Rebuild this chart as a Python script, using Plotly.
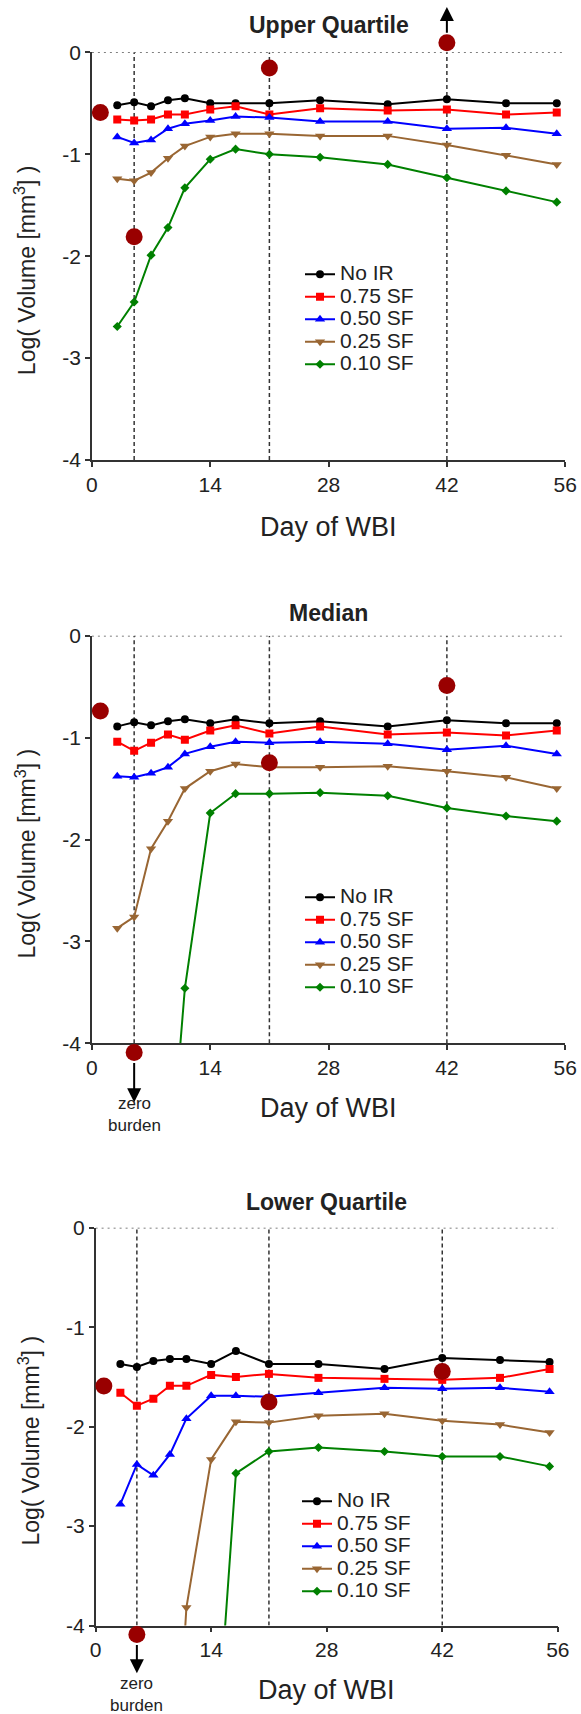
import plotly.graph_objects as go

W, H = 581, 1714
FONT = "Liberation Sans, Arial, sans-serif"

# ---- data -------------------------------------------------------------
days = [3, 5, 7, 9, 11, 14, 17, 21, 27, 35, 42, 49, 55]
series_names = ["No IR", "0.75 SF", "0.50 SF", "0.25 SF", "0.10 SF"]

# Upper quartile, log10 volume [mm^3]
upper_no_ir = [-0.52, -0.49, -0.53, -0.47, -0.45, -0.50, -0.50, -0.50, -0.47, -0.51, -0.46, -0.50, -0.50]
upper_sf075 = [-0.66, -0.67, -0.66, -0.61, -0.61, -0.56, -0.53, -0.61, -0.55, -0.57, -0.56, -0.61, -0.59]
upper_sf050 = [-0.83, -0.89, -0.86, -0.75, -0.70, -0.67, -0.63, -0.64, -0.68, -0.68, -0.75, -0.74, -0.80]
upper_sf025 = [-1.24, -1.26, -1.18, -1.04, -0.92, -0.83, -0.80, -0.80, -0.82, -0.82, -0.91, -1.01, -1.10]
upper_sf010 = [-2.69, -2.45, -1.99, -1.72, -1.33, -1.05, -0.95, -1.00, -1.03, -1.10, -1.23, -1.36, -1.47]

# Median
median_no_ir = [-0.89, -0.85, -0.88, -0.84, -0.82, -0.86, -0.82, -0.86, -0.84, -0.89, -0.83, -0.86, -0.86]
median_sf075 = [-1.04, -1.13, -1.05, -0.97, -1.02, -0.93, -0.88, -0.96, -0.89, -0.97, -0.95, -0.98, -0.93]
median_sf050 = [-1.38, -1.39, -1.35, -1.29, -1.16, -1.09, -1.04, -1.05, -1.04, -1.06, -1.12, -1.08, -1.16]
median_sf025 = [-2.87, -2.76, -2.09, -1.82, -1.50, -1.33, -1.26, -1.29, -1.29, -1.28, -1.33, -1.39, -1.50]
median_sf010 = [None, None, None, -5.5, -3.46, -1.74, -1.55, -1.55, -1.54, -1.57, -1.69, -1.77, -1.82]

# Lower quartile
lower_no_ir = [-1.37, -1.40, -1.34, -1.32, -1.32, -1.37, -1.24, -1.37, -1.37, -1.42, -1.31, -1.33, -1.35]
lower_sf075 = [-1.66, -1.79, -1.72, -1.59, -1.59, -1.48, -1.50, -1.47, -1.51, -1.52, -1.53, -1.51, -1.42]
lower_sf050 = [-2.78, -2.38, -2.49, -2.28, -1.92, -1.69, -1.69, -1.70, -1.66, -1.61, -1.62, -1.61, -1.65]
lower_sf025 = [None, None, None, -6.6, -3.82, -2.33, -1.95, -1.96, -1.89, -1.87, -1.94, -1.98, -2.06]
lower_sf010 = [None, None, None, None, None, -6.0, -2.47, -2.25, -2.21, -2.25, -2.30, -2.30, -2.40]

# Observed reference points (dark red dots)
dot_days = [1, 5, 21, 42]
upper_dots = [-0.59, -1.81, -0.154, 0.094]
median_dots = [-0.74, -4.09, -1.247, -0.488]
lower_dots = [-1.592, -4.09, -1.753, -1.445]

# Imaging days marked by dashed lines
marker_days = [5, 21, 42]

x_tick_vals = [0, 14, 28, 42, 56]
x_tick_text = ["0", "14", "28", "42", "56"]
y_tick_vals = [0, -1, -2, -3, -4]
y_tick_text = ["0", "-1", "-2", "-3", "-4"]

panel_titles = ["Upper Quartile", "Median", "Lower Quartile"]

# ---- styling ----------------------------------------------------------
series_colors = ["#000000", "#ff0000", "#0000ff", "#996633", "#008000"]
series_symbols = ["circle", "square", "triangle-up", "triangle-down", "diamond"]
series_sizes = [8, 8, 9, 9, 7]
dot_color = "#990000"
axis_color = "#333333"


def fx(px):
    return px / W


def fy(py):
    return 1 - py / H


# pixel geometry of each panel
panels = [
    dict(series=[upper_no_ir, upper_sf075, upper_sf050, upper_sf025, upper_sf010],
         dots=upper_dots, x0=91.9, x1=565.2, top=52.3, bottom=460.0,
         title_y=25, xtitle_y=527, ytitle_x=25, legend_x=300, legend_y=258,
         arrow=(42, 0.177, 0.444), zero_text=None),
    dict(series=[median_no_ir, median_sf075, median_sf050, median_sf025, median_sf010],
         dots=median_dots, x0=91.9, x1=565.2, top=635.7, bottom=1043.3,
         title_y=613, xtitle_y=1108, ytitle_x=25, legend_x=300, legend_y=881,
         arrow=(5, -4.178, -4.578), zero_text=1114),
    dict(series=[lower_no_ir, lower_sf075, lower_sf050, lower_sf025, lower_sf010],
         dots=lower_dots, x0=95.6, x1=557.8, top=1227.7, bottom=1625.5,
         title_y=1202, xtitle_y=1690, ytitle_x=29, legend_x=297, legend_y=1485,
         arrow=(5, -4.18, -4.48), zero_text=1694),
]

# extra room (px) above / below each panel for marks that sit just outside it
EXT_TOP, EXT_BOTTOM = 50, 80

fig = go.Figure()
annotations = []
shapes = []
layout_axes = {}

for i, p in enumerate(panels):
    n = "" if i == 0 else str(i + 1)
    xa, ya = "x" + n, "y" + n
    # companion axis pair: same horizontal scale, same vertical scale, taller span
    xe, ye = "x" + str(i + 4), "y" + str(i + 4)
    leg = "legend" + n
    unit = (p["bottom"] - p["top"]) / 4.0

    for name, vals, col, sym, sz in zip(series_names, p["series"], series_colors,
                                        series_symbols, series_sizes):
        fig.add_trace(go.Scatter(
            x=days, y=vals, mode="lines+markers", xaxis=xa, yaxis=ya,
            name='<span style="font-size:21px">' + name + "</span>",
            legend=leg,
            line=dict(color=col, width=2),
            marker=dict(symbol=sym, size=sz, color=col, line=dict(width=0)),
        ))

    fig.add_trace(go.Scatter(
        x=dot_days, y=p["dots"], mode="markers", xaxis=xe, yaxis=ye,
        marker=dict(size=17, color=dot_color), cliponaxis=False, showlegend=False,
    ))

    tick_common = dict(
        showline=True, linecolor=axis_color, linewidth=1.5,
        ticks="outside", ticklen=5, tickwidth=1.5, tickcolor=axis_color,
        showgrid=False, zeroline=False, automargin=False,
        tickfont=dict(family=FONT, size=21, color="#222222"),
    )
    layout_axes["xaxis" + n] = dict(
        domain=[fx(p["x0"]), fx(p["x1"])], anchor=ya, range=[0, 56],
        tickvals=x_tick_vals, ticktext=x_tick_text, **tick_common,
    )
    layout_axes["yaxis" + n] = dict(
        domain=[fy(p["bottom"]), fy(p["top"])], anchor=xa, range=[-4, 0],
        tickvals=y_tick_vals, ticktext=y_tick_text, **tick_common,
    )
    layout_axes["xaxis" + str(i + 4)] = dict(
        domain=[fx(p["x0"]), fx(p["x1"])], anchor=ye, range=[0, 56],
        visible=False, showgrid=False, zeroline=False, automargin=False,
    )
    layout_axes["yaxis" + str(i + 4)] = dict(
        domain=[fy(p["bottom"] + EXT_BOTTOM), fy(p["top"] - EXT_TOP)], anchor=xe,
        range=[-4 - EXT_BOTTOM / unit, EXT_TOP / unit],
        visible=False, showgrid=False, zeroline=False, automargin=False,
    )
    layout_axes[leg] = dict(
        x=fx(p["legend_x"]), y=fy(p["legend_y"]), xanchor="left", yanchor="top",
        bgcolor="rgba(0,0,0,0)", borderwidth=0,
        font=dict(family=FONT, size=15, color="#222222"),
        itemwidth=30,
    )

    # dashed imaging-day lines and dotted zero line
    for d in marker_days:
        shapes.append(dict(type="line", xref=xa, yref=ya, x0=d, x1=d, y0=-4, y1=0,
                           line=dict(color="#333333", width=1.5, dash="4px,3px"),
                           layer="below"))
    shapes.append(dict(type="line", xref=xa, yref=ya, x0=0, x1=56, y0=0, y1=0,
                       line=dict(color="#555555", width=1.5, dash="2px,4px"),
                       layer="below"))

    xc = (p["x0"] + p["x1"]) / 2
    annotations.append(dict(
        text="<b>" + panel_titles[i] + "</b>", xref="paper", yref="paper",
        x=fx(xc), y=fy(p["title_y"]), xanchor="center", yanchor="middle",
        showarrow=False, font=dict(family=FONT, size=23, color="#222222"),
    ))
    annotations.append(dict(
        text="Day of WBI", xref="paper", yref="paper",
        x=fx(xc), y=fy(p["xtitle_y"]), xanchor="center", yanchor="middle",
        showarrow=False, font=dict(family=FONT, size=27, color="#222222"),
    ))
    annotations.append(dict(
        text="Log( Volume [mm<sup>3</sup>] )", xref="paper", yref="paper",
        x=fx(p["ytitle_x"]), y=fy((p["top"] + p["bottom"]) / 2 + 14),
        xanchor="center", yanchor="middle", textangle=-90,
        showarrow=False, font=dict(family=FONT, size=23, color="#222222"),
    ))

    ad, a_tail, a_head = p["arrow"]
    annotations.append(dict(
        text="", xref=xe, yref=ye, axref=xe, ayref=ye,
        x=ad, y=a_head, ax=ad, ay=a_tail, showarrow=True,
        arrowhead=2, arrowsize=1.4, arrowwidth=2, arrowcolor="#000000",
    ))
    if p["zero_text"] is not None:
        annotations.append(dict(
            text="zero<br>burden", xref=xa, yref="paper",
            x=marker_days[0], y=fy(p["zero_text"]), xanchor="center", yanchor="middle",
            showarrow=False, font=dict(family=FONT, size=17, color="#222222"),
        ))

fig.update_layout(
    width=W, height=H, margin=dict(l=0, r=0, t=0, b=0),
    paper_bgcolor="white", plot_bgcolor="rgba(0,0,0,0)",
    font=dict(family=FONT, color="#222222"),
    annotations=annotations, shapes=shapes,
    **layout_axes,
)

fig.write_html("out.html")
